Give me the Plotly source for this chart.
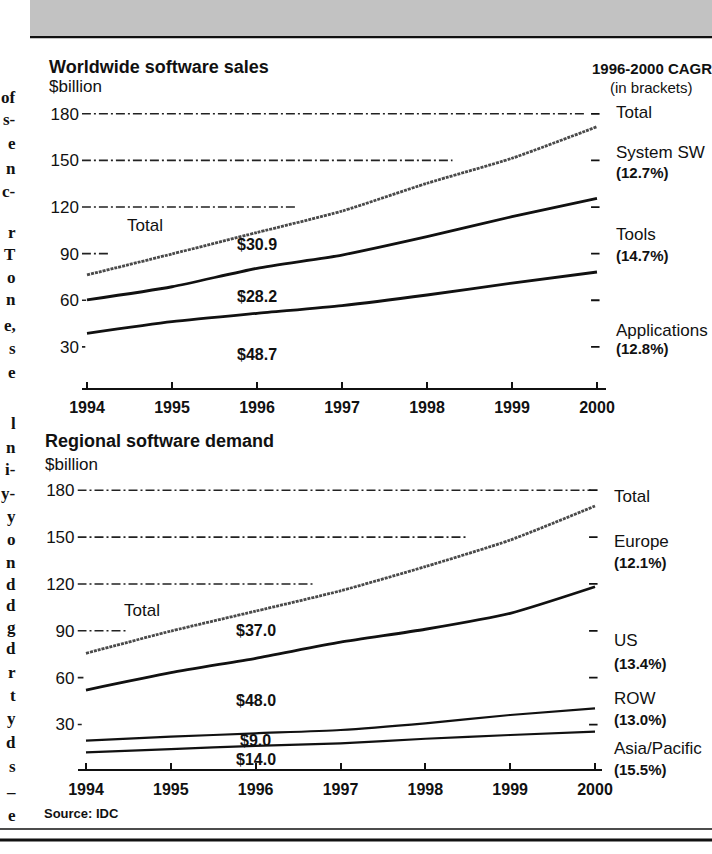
import plotly.graph_objects as go

# ---------------- data ----------------
years = [1994, 1995, 1996, 1997, 1998, 1999, 2000]

# Worldwide software sales, $billion (stacked: applications, tools, system SW)
ww_applications = [38.7, 46.2, 51.6, 56.6, 63.4, 71.1, 78.2]
ww_tools = [21.5, 22.5, 29.0, 32.5, 37.5, 42.7, 47.4]
ww_system_sw = [16.1, 21.1, 23.0, 28.3, 34.4, 37.6, 46.1]

# Regional software demand, $billion (stacked: Asia/Pacific, ROW, US, Europe)
rg_asia_pacific = [12.2, 14.3, 16.3, 18.0, 20.9, 23.3, 25.4]
rg_row = [7.5, 7.9, 8.1, 8.5, 9.9, 12.8, 15.0]
rg_us = [32.4, 41.0, 48.0, 56.2, 60.2, 65.1, 77.8]
rg_europe = [23.5, 26.6, 30.2, 32.9, 40.1, 46.9, 51.7]

y_ticks = [30, 60, 90, 120, 150, 180]
year_labels = ["1994", "1995", "1996", "1997", "1998", "1999", "2000"]

ww_value_labels = ["$48.7", "$28.2", "$30.9"]
rg_value_labels = ["$14.0", "$9.0", "$48.0", "$37.0"]

ww_side_labels = ["Total", "System SW", "(12.7%)", "Tools", "(14.7%)", "Applications", "(12.8%)"]
rg_side_labels = ["Total", "Europe", "(12.1%)", "US", "(13.4%)", "ROW", "(13.0%)", "Asia/Pacific", "(15.5%)"]

column_fragments = ["of", "s-", "e", "n", "c-", "r", "T", "o", "n", "e,", "s", "e",
                    "l", "n", "i-", "y-", "y", "o", "n", "d", "d", "g", "d", "r",
                    "t", "y", "d", "s", "\u2013", "e"]

# ---------------- helpers ----------------
W, H = 712, 854
def px(x):
    return x / W
def py(y):
    return 1 - y / H

SANS = "Liberation Sans, Arial, Helvetica, sans-serif"
NARROW = "Liberation Sans Narrow, Arial Narrow, Liberation Sans, sans-serif"
SERIF = "Liberation Serif, Times New Roman, serif"
INK = "#111111"

fig = go.Figure()

solid = dict(color=INK, width=2.8)
total_style = dict(color="#4a4a4a", width=2.8, dash="3px,1px")

ww_series = [("Applications", ww_applications, solid),
             ("Tools", ww_tools, solid),
             ("System SW", ww_system_sw, total_style)]
for name, vals, st in ww_series:
    fig.add_trace(go.Scatter(x=years, y=vals, name=name, stackgroup="ww", fill="none",
                             mode="lines", line=dict(shape="spline", smoothing=0.6, **st),
                             xaxis="x", yaxis="y", hoverinfo="skip", showlegend=False))

thin = dict(color=INK, width=2.2)
rg_series = [("Asia/Pacific", rg_asia_pacific, thin),
             ("ROW", rg_row, thin),
             ("US", rg_us, solid),
             ("Europe", rg_europe, total_style)]
for name, vals, st in rg_series:
    fig.add_trace(go.Scatter(x=years, y=vals, name=name, stackgroup="rg", fill="none",
                             mode="lines", line=dict(shape="spline", smoothing=0.6, **st),
                             xaxis="x2", yaxis="y2", hoverinfo="skip", showlegend=False))

# ---------------- axes ----------------
top_xrange = [1993.94, 2000.1]
top_yrange = [3.54, 182]
bot_xrange = [1993.9, 2000.08]
bot_yrange = [1.34, 182]

xcommon = dict(tickvals=years, ticktext=year_labels, ticks="inside", ticklen=6, tickwidth=1.6,
               tickcolor=INK, showline=True, linewidth=2, linecolor=INK, showgrid=False,
               zeroline=False, automargin=False,
               tickfont=dict(family=NARROW, size=16, color=INK, weight="bold"),
               ticklabelstandoff=4)
ycommon = dict(tickvals=y_ticks, ticks="", showline=False, showgrid=False, zeroline=False,
               automargin=False, tickfont=dict(family=SANS, size=17, color=INK),
               ticklabelstandoff=2)

fig.update_layout(
    width=W, height=H, margin=dict(l=0, r=0, t=0, b=0, pad=0, autoexpand=False),
    paper_bgcolor="white", plot_bgcolor="white", showlegend=False,
    xaxis=dict(domain=[px(81.9), px(605.5)], range=top_xrange, anchor="y", **xcommon),
    yaxis=dict(domain=[py(388), py(110.7)], range=top_yrange, anchor="x", **ycommon),
    xaxis2=dict(domain=[px(77.5), px(601.8)], range=bot_xrange, anchor="y2", **xcommon),
    yaxis2=dict(domain=[py(769.3), py(487.1)], range=bot_yrange, anchor="x2", **ycommon),
)

# ---------------- broken dash-dot gridlines and right-hand ticks ----------------
grid_dash = "9px,3px,2px,3px"
top_grid_end = [1993.98, 1993.99, 1994.27, 1996.47, 1998.3, 1999.85]
bot_grid_end = [1993.95, 1993.97, 1994.48, 1996.67, 1998.5, 1999.95]
shapes = []
for v, e in zip(y_ticks, top_grid_end):
    shapes.append(dict(type="line", xref="x", yref="y", x0=top_xrange[0], x1=e, y0=v, y1=v,
                       line=dict(color="#222222", width=1.6, dash=grid_dash)))
    shapes.append(dict(type="line", xref="x", yref="y", x0=1999.93, x1=2000.03, y0=v, y1=v,
                       line=dict(color=INK, width=1.8)))
for v, e in zip(y_ticks, bot_grid_end):
    shapes.append(dict(type="line", xref="x2", yref="y2", x0=bot_xrange[0], x1=e, y0=v, y1=v,
                       line=dict(color="#222222", width=1.6, dash=grid_dash)))
    shapes.append(dict(type="line", xref="x2", yref="y2", x0=1999.93, x1=2000.03, y0=v, y1=v,
                       line=dict(color=INK, width=1.8)))

# page decoration: scanned band at top, rules at bottom
shapes.append(dict(type="rect", xref="paper", yref="paper", x0=px(30), x1=1, y0=py(35), y1=1,
                   fillcolor="#c2c2c2", line=dict(width=0), layer="below"))
shapes.append(dict(type="line", xref="paper", yref="paper", x0=px(30), x1=1, y0=py(37), y1=py(37),
                   line=dict(color=INK, width=2.5)))
shapes.append(dict(type="line", xref="paper", yref="paper", x0=0, x1=1, y0=py(829), y1=py(829),
                   line=dict(color=INK, width=1.6)))
shapes.append(dict(type="line", xref="paper", yref="paper", x0=0, x1=1, y0=py(840), y1=py(840),
                   line=dict(color=INK, width=3.2)))
fig.update_layout(shapes=shapes)

# ---------------- text ----------------
ann = []
def ptext(x, y, t, size=17, bold=False, anchor="left", family=SANS):
    ann.append(dict(xref="paper", yref="paper", x=px(x), y=py(y), text=t, showarrow=False,
                    xanchor=anchor, yanchor="middle",
                    font=dict(family=family, size=size, color=INK, weight="bold" if bold else "normal")))

ptext(47, 67, "Worldwide software sales", 18, True)
ptext(47, 86, "$billion", 17)
ptext(590, 69, "1996-2000 CAGR", 15, True)
ptext(651, 87, "(in brackets)", 15, anchor="center")
ptext(43, 441, "Regional software demand", 18, True)
ptext(43, 464, "$billion", 17)
ptext(42, 813, "Source: IDC", 13, True)

ww_side_y = [112, 153, 172, 235, 255, 330, 348]
for t, y in zip(ww_side_labels, ww_side_y):
    ptext(614, y, t, 15 if t.startswith("(") else 17, t.startswith("("))
rg_side_y = [496.7, 541.7, 562.7, 640.7, 663.3, 698.3, 719.3, 748.3, 769.3]
for t, y in zip(rg_side_labels, rg_side_y):
    ptext(612, y, t, 15 if t.startswith("(") else 17, t.startswith("("))

# adjacent newspaper column at the left edge
frag_y = [97, 120, 144, 168, 191, 233, 254, 277, 300, 325, 348, 372,
          423, 447, 470, 493, 516, 539, 562, 584, 605, 627, 648, 672,
          695, 718, 742, 766, 792, 815]
for t, y in zip(column_fragments, frag_y):
    ptext(18, y, t, 17, True, anchor="right", family=SERIF)

# in-chart labels (data coordinates)
ww_label_y = [24.8, 62.3, 95.6]
for t, y in zip(ww_value_labels, ww_label_y):
    ann.append(dict(xref="x", yref="y", x=years[2], y=y, text=t, showarrow=False,
                    font=dict(family=SANS, size=16, color=INK, weight="bold")))
rg_label_y = [7.7, 20.1, 45.7, 90.5]
for t, y in zip(rg_value_labels, rg_label_y):
    ann.append(dict(xref="x2", yref="y2", x=years[2], y=y, text=t, showarrow=False,
                    font=dict(family=SANS, size=16, color=INK, weight="bold")))
ann.append(dict(xref="x", yref="y", x=1994.68, y=108.4, text="Total", showarrow=False,
                font=dict(family=SANS, size=17, color=INK)))
ann.append(dict(xref="x2", yref="y2", x=1994.66, y=103.3, text="Total", showarrow=False,
                font=dict(family=SANS, size=17, color=INK)))

fig.update_layout(annotations=ann)

fig.write_html("out.html", config={"displayModeBar": False},
               post_script="document.body.style.margin='0';")
